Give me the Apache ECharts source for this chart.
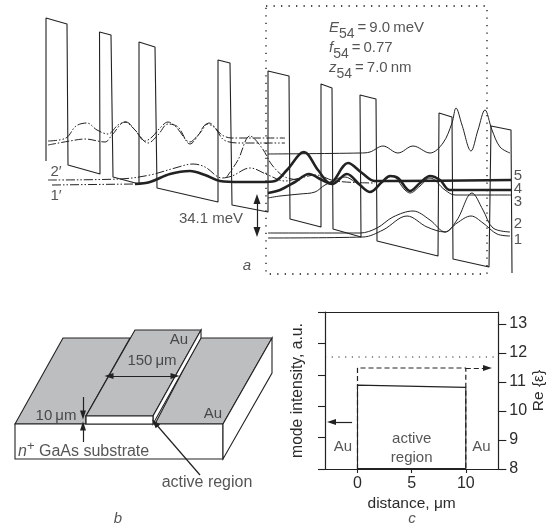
<!DOCTYPE html>
<html><head><meta charset="utf-8">
<style>html,body{margin:0;padding:0;background:#fff}#c{width:548px;height:524px}</style>
<script src="https://cdn.jsdelivr.net/npm/echarts@6/dist/echarts.min.js"></script>
</head><body><div id="c"></div>
<script>
// ---- panel a: band profile and wavefunctions (x, y)
const bandProfile=[[46,161],[46,18],[67,24],[68,165],[100,174],[99.5,32],[111,35],[113,177],[139,184],[139,42],[155,47],[157,188],[218,202],[218,60],[230,63],[232,205],[268,212],[268,71],[289,76],[290,219],[321,227],[321,84],[332,88],[333,229],[361,237],[360,95],[376,99],[377,241],[438,256],[439,113],[452,117],[453,259],[489,267],[491,126],[511,130],[512,273]];
const dottedBox=[[266,6],[487,6],[487,274],[266,274],[266,6]];
const prime2Upper=[[48,141],[66,138],[76,126],[87,123],[97,130],[108,134],[118,125],[126,122],[135,130],[145,141],[152,137],[160,128],[168,122],[176,127],[190,142],[198,135],[207,124],[215,128],[224,140],[240,143],[285,143]];
const prime1Upper=[[48,145],[70,141],[85,139],[105,142],[112,135],[125,122],[135,130],[148,143],[158,135],[168,124],[178,127],[190,144],[200,133],[209,123],[222,135],[232,138],[285,138]];
const prime2Lower=[[48,180],[120,179],[150,175],[175,168],[193,164],[205,167],[222,178],[232,176],[250,168],[268,175],[285,181],[300,178],[316,175],[335,181],[375,183]];
const prime1Peak=[[226,178],[238,160],[250,136],[262,148],[272,165],[285,177],[300,180]];
const prime1Base=[[52,185],[135,184]];
const prime1Thick=[[135,184],[150,182],[170,174],[190,171],[205,175],[220,181],[240,182],[262,182],[275,181],[287,170],[304,152],[318,170],[330,183],[348,163],[362,173],[375,181],[395,181],[511,180]];
const level4Thick=[[268,193],[280,190],[295,182],[309,174],[322,180],[332,184],[347,174],[360,185],[370,192],[382,182],[390,176],[398,178],[410,191],[420,183],[430,176],[440,180],[450,190],[511,190]];
const level3=[[268,198],[280,196],[300,194],[315,192],[325,185],[345,177],[355,182],[370,192],[385,180],[392,176],[405,190],[410,193],[420,186],[430,178],[445,190],[455,195],[511,195]];
const levelUpper=[[268,154],[360,153],[370,152],[383,146],[398,153],[413,146],[430,153],[443,143],[452,123],[456,108],[462,125],[471,151],[478,130],[485,110],[492,130],[500,147],[510,153]];
const level2=[[268,233],[360,233],[377,228],[393,217],[413,211],[430,220],[445,232],[457,220],[472,193],[483,210],[493,228],[510,232]];
const level1=[[268,238],[363,237],[383,230],[407,216],[427,227],[445,232],[457,223],[471,216],[483,223],[497,234],[510,236]];
// ---- panel b: device sketch outlines
const padLeft=[[15,424],[63,338],[130,338],[86,416],[86,424]];
const padCentre=[[86,416],[135,330],[201,330],[153,416]];
const padRight=[[155,424],[200,338],[272,338],[223,424]];
const stripSide=[[153,416],[201,330],[201,338],[153,424]];
const activeFace=[[86,416],[153,416],[153,424],[86,424]];
const substrateFront=[[15,424],[223,424],[223,459],[15,459]];
const substrateSide=[[223,424],[272,338],[272,373],[223,459]];
const arrowsB=[[[109,376],[175,376]],[[175,376],[109,376]],[[83,397],[83,415]],[[83,442],[83,426]],[[200,475],[155,423]]];
// ---- panel a arrows
const arrowsA=[[[257,215],[257,199]],[[257,215],[257,232]]];
// ---- panel c values
const xTicks=[0,5,10];
const rightTicks=[8,9,10,11,12,13];
const modeDistance=[0,0,10,10];
const modeIntensity=[0,2.67,2.6,0];
const epsDistance=[0,0,10,10];
const epsValue=[8,11.48,11.48,8];
const epsBackground=[11.86,11.86];
const epsBackgroundX=[-3,13];
const floorX=[0,10];
const floorY=[0,0];
// ---- text
const labelsA=['5','4','3','2','1','2′','1′','34.1 meV'];
const labelsAAt=[[518,176],[518,189],[518,202],[518,224],[518,240],[56,172],[56,196],[211,219]];
const labelsEq=['{i|E}{s|54}{n|\u2009=\u20099.0\u2009meV}','{i|f}{s|54}{n|\u2009=\u20090.77}','{i|z}{s|54}{n|\u2009=\u20097.0\u2009nm}'];
const labelsEqAt=[[329,30],[329,50],[329,70]];
const labelsB=['Au','150\u2009μm','10\u2009μm','Au'];
const labelsBAt=[[179,340],[152,361],[56,416],[213,414]];
const activeLabel=['active region'];
const activeLabelAt=[[207,483]];
const substrateLabel=['{it|n}{sup|+}{n| GaAs substrate}'];
const substrateLabelAt=[[18,449]];
const panelLetters=['a','b','c'];
const panelLettersAt=[[247,266],[118,519],[412,519]];
const labelsC=['Au','active','region','Au'];
const labelsCAt=[[-1.34,0.7],[5,0.96],[5,0.35],[11.44,0.7]];

const INK='#2b2b2b';
const FONT='"Liberation Sans",Arial,sans-serif';
function line(data,width,type,smooth,color){return {type:'line',xAxisIndex:0,yAxisIndex:0,data,symbol:'none',smooth:smooth?0.35:false,silent:true,animation:false,z:3,
  lineStyle:{color:color||'#222',width,type:type||'solid'}};}
function poly(points,fill,width){return {type:'custom',xAxisIndex:0,yAxisIndex:0,silent:true,animation:false,z:1,data:points,
  renderItem(params,api){ if(params.dataIndex!==0) return null;
    const pts=points.map(p=>api.coord(p));
    return {type:'polygon',shape:{points:pts},style:{fill,stroke:'#222',lineWidth:width,lineJoin:'miter'}};}};}
function texts(strings,at,style,rich,xi,yi){return {type:'scatter',xAxisIndex:xi||0,yAxisIndex:yi||0,symbolSize:0,silent:true,animation:false,z:5,
  data:at.map((p,i)=>({value:p,label:{formatter:strings[i]}})),
  label:Object.assign({show:true,position:'inside',color:INK,fontFamily:FONT,fontSize:15},style||{},rich?{rich}:{})};}
function arrows(list,size,w){return {type:'line',xAxisIndex:0,yAxisIndex:0,data:[],symbol:'none',silent:true,animation:false,z:6,
  markLine:{silent:true,animation:false,symbol:['none','triangle'],symbolSize:size||[7,10],label:{show:false},
   lineStyle:{color:'#222',width:w||1.2,type:'solid'},
   data:list.map(a=>[{coord:a[0]},{coord:a[1]}])}};}
const DDD=[9,2,1.5,2,1.5,2];
const eqRich={i:{fontStyle:'italic',fontSize:15,fontFamily:FONT,color:INK,verticalAlign:'top',height:18},
  s:{fontSize:14,fontFamily:FONT,color:INK,padding:[9,0,0,0],verticalAlign:'bottom'},
  n:{fontSize:15,fontFamily:FONT,color:INK,verticalAlign:'top',height:18}};
const supRich={it:{fontStyle:'italic',fontSize:16,fontFamily:FONT,color:INK,padding:[5,0,0,0]},
  sup:{fontSize:13,fontFamily:FONT,color:INK,padding:[0,0,6,0]},
  n:{fontSize:16,fontFamily:FONT,color:INK,padding:[5,0,0,0]}};
const opt={
  animation:false,backgroundColor:'#fff',
  grid:[{left:0,right:0,top:0,bottom:0},{left:325,width:174,top:312,height:157}],
  xAxis:[
   {gridIndex:0,type:'value',min:0,max:548,show:false},
   {gridIndex:1,type:'value',min:-3,max:13,interval:1,
     axisLine:{show:true,onZero:false,lineStyle:{color:'#222',width:1.2}},
     axisTick:{show:true,length:4,customValues:xTicks,lineStyle:{color:'#222',width:1.1}},splitLine:{show:false},
     axisLabel:{color:INK,fontFamily:FONT,fontSize:16,margin:7,customValues:xTicks},
     name:'distance, μm',nameLocation:'middle',nameGap:27,nameTextStyle:{color:INK,fontFamily:FONT,fontSize:15.5}},
   {gridIndex:1,type:'value',min:-3,max:13,position:'top',axisLine:{show:true,onZero:false,lineStyle:{color:'#222',width:1.2}},axisTick:{show:false},axisLabel:{show:false},splitLine:{show:false}}
  ],
  yAxis:[
   {gridIndex:0,type:'value',min:0,max:524,inverse:true,show:false},
   {gridIndex:1,type:'value',min:0,max:5,interval:1,position:'left',
     axisLine:{show:true,onZero:false,lineStyle:{color:'#222',width:1.2}},axisTick:{show:true,length:7,lineStyle:{color:'#222',width:1.1}},
     axisLabel:{show:false},splitLine:{show:false},
     name:'mode intensity, a.u.',nameLocation:'middle',nameRotate:90,nameGap:19,nameTextStyle:{color:INK,fontFamily:FONT,fontSize:15.7}},
   {gridIndex:1,type:'value',min:8,max:13.41,interval:1,position:'right',
     axisLine:{show:true,onZero:false,lineStyle:{color:'#222',width:1.2}},axisTick:{show:true,length:8,customValues:rightTicks,lineStyle:{color:'#222',width:1.1}},
     axisLabel:{color:INK,fontFamily:FONT,fontSize:16,margin:11,customValues:rightTicks},splitLine:{show:false},
     name:'Re {ε}',nameLocation:'middle',nameRotate:90,nameGap:31,nameTextStyle:{color:INK,fontFamily:FONT,fontSize:15.5}}
  ],
  series:[
   line(bandProfile,1.1),
   Object.assign(line(dottedBox,1.3,[1.3,6.2]),{lineStyle:{color:'#111',width:1.3,type:[1.3,6.2]}}),
   line(prime2Upper,1,DDD,true),line(prime1Upper,1,[8,2,1.5,2],true),
   line(prime2Lower,1,DDD,true),line(prime1Peak,1,[8,2,1.5,2],true),line(prime1Base,1,DDD),
   line(levelUpper,1,null,true),line(level3,1,null,true),line(level2,1,null,true),line(level1,1,null,true),
   line(prime1Thick,2.6,null,true),line(level4Thick,2.6,null,true),
   poly(padLeft,'#bcbec0',1.1),poly(padRight,'#bcbec0',1.1),poly(substrateFront,'#fff',1.1),poly(substrateSide,'#fff',1.1),
   poly(padCentre,'#bcbec0',1.1),poly(stripSide,'#fff',1.1),poly(activeFace,'#fff',1.2),
   arrows(arrowsA,[7,10]),arrows(arrowsB,[6,9]),
   texts(labelsA,labelsAAt),
   texts(labelsEq,labelsEqAt,{position:'right',distance:0},eqRich),
   texts(labelsB,labelsBAt),
   texts(activeLabel,activeLabelAt,{fontSize:16}),
   texts(substrateLabel,substrateLabelAt,{position:'right',distance:0},supRich),
   texts(panelLetters,panelLettersAt,{fontStyle:'italic'}),
   // panel c
   {type:'line',xAxisIndex:1,yAxisIndex:1,data:modeDistance.map((x,i)=>[x,modeIntensity[i]]),symbol:'none',silent:true,animation:false,z:4,lineStyle:{color:'#222',width:1.1}},
   {type:'line',xAxisIndex:1,yAxisIndex:2,data:epsDistance.map((x,i)=>[x,epsValue[i]]),symbol:'none',silent:true,animation:false,z:4,lineStyle:{color:'#222',width:1.2,type:[5,3]},
     markLine:{silent:true,animation:false,symbol:['none','triangle'],symbolSize:[6,9],label:{show:false},lineStyle:{color:'#222',width:1.2,type:[5,3]},data:[[{coord:[10,11.48]},{coord:[12,11.48]}]]}},
   {type:'line',xAxisIndex:1,yAxisIndex:2,data:epsBackgroundX.map((x,i)=>[x,epsBackground[i]]),symbol:'none',silent:true,animation:false,lineStyle:{color:'#222',width:1.2,type:[1.2,5.5]}},
   {type:'line',xAxisIndex:1,yAxisIndex:1,data:floorX.map((x,i)=>[x,floorY[i]]),symbol:'none',silent:true,animation:false,z:4,lineStyle:{color:'#222',width:2},
     markLine:{silent:true,animation:false,symbol:['none','triangle'],symbolSize:[6,9],label:{show:false},lineStyle:{color:'#222',width:1.2,type:'solid'},data:[[{coord:[-0.5,1.5]},{coord:[-2.4,1.5]}]]}},
   texts(labelsC,labelsCAt,{},null,1,1)
  ]
};
const chart=echarts.init(document.getElementById('c'),null,{renderer:'canvas'});
chart.setOption(opt);
</script></body></html>
